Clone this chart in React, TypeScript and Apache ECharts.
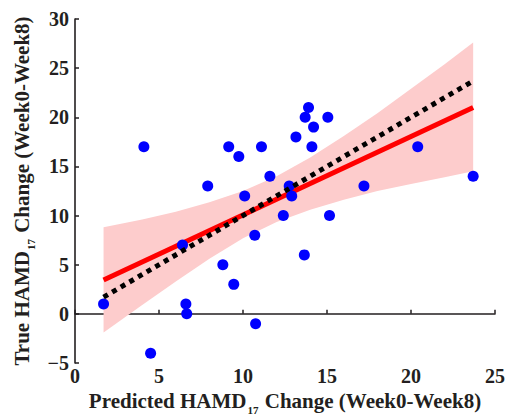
import React, { useEffect, useRef } from "react";
import * as echarts from "echarts";

const pointX = [1.7, 4.5, 6.4, 6.6, 6.65, 8.8, 9.45, 10.7, 10.75, 4.1, 9.15, 9.75, 7.9, 10.1, 11.1, 13.9, 13.7, 15.05, 14.2, 13.15, 14.1, 20.4, 11.6, 23.7, 12.75, 17.2, 12.9, 12.4, 15.15, 13.65];
const pointY = [1, -4, 7, 1, 0, 5, 3, 8, -1, 17, 17, 16, 13, 12, 17, 21, 20, 20, 19, 18, 17, 17, 14, 14, 13, 13, 12, 10, 10, 6];

const fitX = [1.7, 23.7];
const fitY = [3.45, 21.0];

const identityX = [1.7, 23.7];
const identityY = [1.7, 23.7];

const bandX = [1.7, 4, 6, 8, 10, 12, 14, 16, 18, 20, 22, 23.7];
const bandLo = [-1.9, 0.9, 3.3, 5.6, 7.7, 9.35, 10.6, 11.6, 12.5, 13.2, 13.9, 14.5];
const bandHi = [8.8, 9.6, 10.4, 11.35, 12.5, 14.0, 15.9, 18.1, 20.4, 22.9, 25.4, 27.6];

const xTicks = [0, 5, 10, 15, 20, 25];
const yTicks = [-5, 0, 5, 10, 15, 20, 25, 30];

const FONT = "Liberation Serif";
const TEXT = "#231f20";

const richName = {
  m: { fontSize: 21, fontWeight: "bold", fontFamily: FONT, color: TEXT, lineHeight: 22, verticalAlign: "top" },
  s: { fontSize: 11, fontWeight: "bold", fontFamily: FONT, color: TEXT, lineHeight: 11, padding: [14, 1, 0, 1], verticalAlign: "top" },
};

const richTick = {
  t: { fontSize: 20, fontWeight: "bold", fontFamily: FONT, color: TEXT },
};

export default function App() {
  const ref = useRef<HTMLDivElement>(null);
  useEffect(() => {
    if (!ref.current) return;
    const chart = echarts.init(ref.current, undefined, { renderer: "svg" });
    const labelStyle = {
      fontSize: 20,
      fontWeight: "bold",
      fontFamily: FONT,
      color: TEXT,
      formatter: (v: number) => "{t|" + (v < 0 ? "\u2212" + Math.abs(v) : String(v)) + "}",
      rich: richTick,
    };
    const axisCommon = {
      axisLine: { show: true, lineStyle: { color: TEXT, width: 1.6 } },
      axisTick: { show: true, inside: true, length: 4, lineStyle: { color: TEXT, width: 1.5 } },
      splitLine: { show: false },
    };
    chart.setOption({
      animation: false,
      textStyle: { fontFamily: FONT },
      grid: { left: 75, right: 14, top: 19, bottom: 54, containLabel: false, outerBoundsMode: "none" },
      xAxis: {
        type: "value",
        min: xTicks[0],
        max: xTicks[xTicks.length - 1],
        interval: 5,
        ...axisCommon,
        axisLabel: { ...labelStyle, margin: 3 },
        name: "{m|Predicted HAMD}{s|17}{m| Change (Week0-Week8)}",
        nameLocation: "middle",
        nameGap: 19,
        nameTextStyle: { rich: richName },
      },
      yAxis: {
        type: "value",
        min: yTicks[0],
        max: yTicks[yTicks.length - 1],
        interval: 5,
        ...axisCommon,
        axisLabel: { ...labelStyle, margin: 6 },
        name: "{m|True HAMD}{s|17}{m| Change (Week0-Week8)}",
        nameLocation: "middle",
        nameGap: 35,
        nameRotate: 90,
        nameTextStyle: { rich: richName },
      },
      series: [
        {
          type: "custom",
          data: bandX.map((x, i) => [x, bandLo[i], bandHi[i]]),
          encode: { x: 0, y: [1, 2] },
          silent: true,
          z: 1,
          renderItem: (params: any, api: any) => {
            if (params.dataIndex !== 0) return null;
            const pts: number[][] = [];
            for (let i = 0; i < bandX.length; i++) pts.push(api.coord([bandX[i], bandHi[i]]));
            for (let i = bandX.length - 1; i >= 0; i--) pts.push(api.coord([bandX[i], bandLo[i]]));
            return { type: "polygon", shape: { points: pts }, style: { fill: "#fdcccc" } };
          },
        },
        {
          type: "line",
          data: fitX.map((x, i) => [x, fitY[i]]),
          symbol: "none",
          lineStyle: { color: "#ff0000", width: 5 },
          z: 2,
        },
        {
          type: "scatter",
          data: pointX.map((x, i) => [x, pointY[i]]),
          symbol: "circle",
          symbolSize: 11,
          itemStyle: { color: "#0000ff", opacity: 1 },
          z: 3,
        },
        {
          type: "line",
          data: identityX.map((x, i) => [x, identityY[i]]),
          symbol: "none",
          lineStyle: { color: "#000000", width: 5, type: [5, 5] },
          z: 4,
        },
      ],
    });
    return () => chart.dispose();
  }, []);
  return <div ref={ref} style={{ position: "fixed", left: 0, top: 0, width: 509, height: 417, background: "#fff" }} />;
}
